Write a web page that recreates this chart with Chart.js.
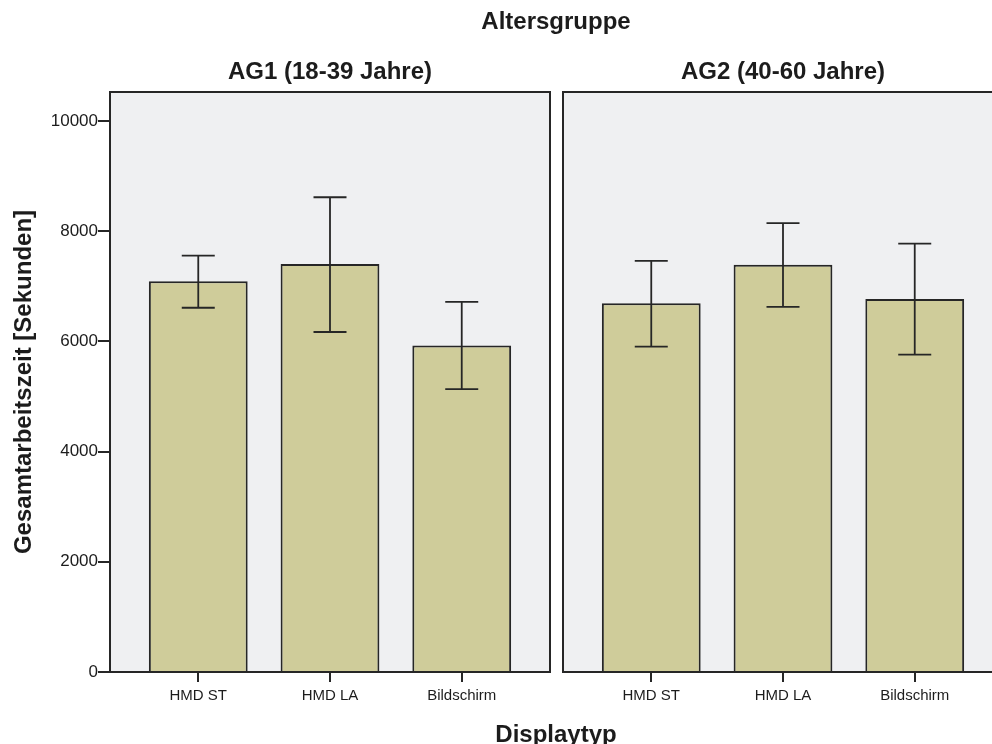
<!DOCTYPE html>
<html>
<head>
<meta charset="utf-8">
<script src="https://cdn.jsdelivr.net/npm/chart.js@4/dist/chart.umd.min.js"></script>
<style>
  html, body { margin: 0; padding: 0; background: #fff; overflow: hidden; }
  #wrap { position: relative; width: 992px; height: 744px; overflow: hidden; font-family: "Liberation Sans", Arial, sans-serif; }
  canvas { position: absolute; top: 0; }
  .t { position: absolute; font-weight: bold; font-size: 24px; color: #1c1c1c; white-space: nowrap; transform: translateX(-50%); }
</style>
</head>
<body>
<div id="wrap">
  <canvas id="left" width="556" height="744" style="left:0"></canvas>
  <canvas id="right" width="460" height="744" style="left:556px"></canvas>
  <div class="t" style="left:556px; top:7px">Altersgruppe</div>
  <div class="t" style="left:330px; top:57px">AG1 (18-39 Jahre)</div>
  <div class="t" style="left:783px; top:57px">AG2 (40-60 Jahre)</div>
  <div class="t" style="left:556px; top:720px">Displaytyp</div>
</div>
<script>
// Daten
const categories = ['HMD ST', 'HMD LA', 'Bildschirm'];
const yTicks = [0, 2000, 4000, 6000, 8000, 10000];

// AG1 (18-39 Jahre)
const ag1Mean = [7090, 7405, 5925];
const ag1Lo = [6610, 6170, 5135];
const ag1Hi = [7555, 8615, 6715];

// AG2 (40-60 Jahre)
const ag2Mean = [6690, 7390, 6770];
const ag2Lo = [5905, 6625, 5760];
const ag2Hi = [7460, 8145, 7775];

const FONT = "'Liberation Sans', Arial, sans-serif";
const DARK = '#262626';

// Hintergrund + Rahmen der Felder
const panelPlugin = {
    id: 'panel',
    beforeDraw(chart) {
        const a = chart.chartArea, ctx = chart.ctx;
        ctx.save();
        ctx.fillStyle = '#eff0f2';
        ctx.fillRect(a.left, a.top, a.right - a.left, a.bottom - a.top);
        ctx.restore();
    },
    afterDraw(chart) {
        const a = chart.chartArea, ctx = chart.ctx;
        ctx.save();
        ctx.strokeStyle = DARK;
        ctx.lineWidth = 2;
        ctx.strokeRect(a.left, a.top, a.right - a.left, a.bottom - a.top);
        ctx.restore();
    }
};

// Fehlerbalken
const errorBarPlugin = {
    id: 'errorBars',
    afterDatasetsDraw(chart, args, opts) {
        const ctx = chart.ctx;
        const xs = chart.scales.x, ys = chart.scales.y;
        ctx.save();
        ctx.strokeStyle = DARK;
        ctx.lineWidth = 1.8;
        opts.lo.forEach((lo, i) => {
            const x = xs.getPixelForValue(i);
            const yLo = ys.getPixelForValue(lo);
            const yHi = ys.getPixelForValue(opts.hi[i]);
            const cap = 16.5;
            ctx.beginPath();
            ctx.moveTo(x, yHi); ctx.lineTo(x, yLo);
            ctx.moveTo(x - cap, yHi); ctx.lineTo(x + cap, yHi);
            ctx.moveTo(x - cap, yLo); ctx.lineTo(x + cap, yLo);
            ctx.stroke();
        });
        ctx.restore();
    }
};

function makeChart(id, mean, lo, hi, showY, padding) {
    return new Chart(document.getElementById(id), {
        type: 'bar',
        data: {
            datasets: [{
                data: mean.map((v, i) => ({ x: i, y: v })),
                backgroundColor: '#cfcc9a',
                borderColor: DARK,
                borderWidth: 2,
                categoryPercentage: 1,
                barPercentage: 0.75
            }]
        },
        options: {
            responsive: false,
            animation: false,
            layout: { padding: padding },
            plugins: {
                legend: { display: false },
                tooltip: { enabled: false },
                errorBars: { lo: lo, hi: hi }
            },
            scales: {
                x: {
                    type: 'linear',
                    offset: false,
                    min: -0.67,
                    max: 2.67,
                    afterBuildTicks: s => { s.ticks = categories.map((c, i) => ({ value: i })); },
                    afterFit: s => { s.height = 72; },
                    grid: { offset: false, drawOnChartArea: false, drawTicks: true, tickLength: 10, color: DARK, lineWidth: 2 },
                    border: { display: false },
                    ticks: {
                        padding: 5,
                        color: '#1c1c1c',
                        font: { family: FONT, size: 15 },
                        maxRotation: 0,
                        autoSkip: false,
                        callback: v => categories[v]
                    }
                },
                y: {
                    display: showY,
                    min: 0,
                    max: 10525,
                    afterBuildTicks: s => { s.ticks = yTicks.map(v => ({ value: v })); },
                    afterFit: s => { if (showY) s.width = 110; },
                    grid: { drawOnChartArea: false, drawTicks: true, tickLength: 12, color: DARK, lineWidth: 2 },
                    border: { display: false },
                    ticks: {
                        padding: 0,
                        color: '#1c1c1c',
                        font: { family: FONT, size: 17 },
                        callback: v => String(v)
                    },
                    title: {
                        display: true,
                        text: 'Gesamtarbeitszeit [Sekunden]',
                        color: '#1c1c1c',
                        font: { family: FONT, size: 24, weight: 'bold' },
                        padding: { top: 10, bottom: 0 }
                    }
                }
            }
        },
        plugins: [panelPlugin, errorBarPlugin]
    });
}

makeChart('left', ag1Mean, ag1Lo, ag1Hi, true, { top: 92, right: 6, left: 0, bottom: 0 });
makeChart('right', ag2Mean, ag2Lo, ag2Hi, false, { top: 92, right: 13, left: 7, bottom: 0 });
</script>
</body>
</html>
